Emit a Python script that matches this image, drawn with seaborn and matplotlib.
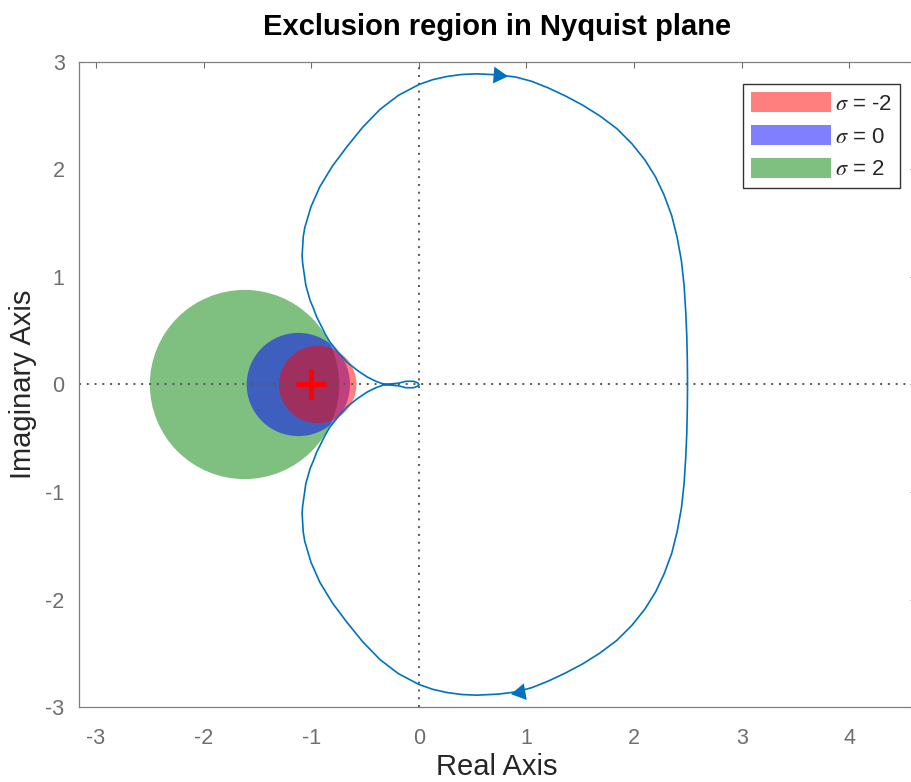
import numpy as np
import pandas as pd
import matplotlib
matplotlib.use('Agg')
import matplotlib.pyplot as plt
from matplotlib.patches import Circle, Patch
import seaborn as sns

# точки кривой Найквиста (верхняя половина, от начала координат до оси)
upper_re = [0.00, -0.01, -0.05, -0.12, -0.19, -0.27, -0.33, -0.40, -0.48, -0.57,
            -0.67, -0.75, -0.83, -0.87, -0.91, -0.95, -0.98, -1.01, -1.03, -1.05,
            -1.06, -1.07, -1.08, -1.085, -1.08, -1.075, -1.06, -1.002, -0.92, -0.804,
            -0.67, -0.523, -0.36, -0.19, 0.00, 0.13, 0.265, 0.40, 0.54, 0.74,
            0.90, 1.05, 1.20, 1.36, 1.52, 1.68, 1.84, 1.98, 2.10, 2.20,
            2.28, 2.35, 2.40, 2.44, 2.465, 2.48, 2.49, 2.495, 2.497]
upper_im = [0.00, 0.015, 0.03, 0.03, 0.012, 0.005, 0.005, 0.03, 0.07, 0.13,
            0.21, 0.30, 0.40, 0.47, 0.55, 0.63, 0.71, 0.78, 0.85, 0.92,
            0.99, 1.06, 1.13, 1.20, 1.28, 1.37, 1.46, 1.655, 1.84, 2.031,
            2.21, 2.392, 2.56, 2.69, 2.79, 2.836, 2.866, 2.884, 2.89, 2.88,
            2.86, 2.82, 2.76, 2.685, 2.60, 2.50, 2.38, 2.24, 2.09, 1.93,
            1.76, 1.57, 1.37, 1.15, 0.92, 0.68, 0.45, 0.22, 0.00]

# стрелки направления
arrow_re = [0.74, 0.94]
arrow_im = [2.88, -2.86]
arrow_angle = [-95, 100]

# круги исключения
sigma_labels = ['-2', '0', '2']
circle_center = [-0.94, -1.12, -1.62]
circle_radius = [0.36, 0.48, 0.88]
circle_colors = ['red', 'blue', (0, 0.5, 0)]

x_ticks = [-3, -2, -1, 0, 1, 2, 3, 4]
y_ticks = [-3, -2, -1, 0, 1, 2, 3]

sns.set_theme(style='white')
plt.rcParams['font.family'] = ['Liberation Sans', 'DejaVu Sans']
plt.rcParams['mathtext.fontset'] = 'stix'
plt.rcParams['axes.unicode_minus'] = False

fig = plt.figure(figsize=(9.12, 7.82), dpi=100)
ax = fig.add_axes([78.5 / 912, 75 / 782, (916 - 78.5) / 912, 645 / 782])

# круги: зелёный снизу, красный сверху
for i in [2, 1, 0]:
    ax.add_patch(Circle((circle_center[i], 0), circle_radius[i],
                        facecolor=circle_colors[i], alpha=0.5, edgecolor='none', zorder=1))

ax.axhline(0, color='#555555', lw=1.4, ls=(0, (1, 3)), zorder=2)
ax.axvline(0, color='#555555', lw=1.4, ls=(0, (1, 3)), zorder=2)

# полная кривая (нижняя половина — сопряжённая)
curve = pd.DataFrame({
    're': upper_re + upper_re[::-1],
    'im': upper_im + [-v for v in upper_im[::-1]],
})
sns.lineplot(data=curve, x='re', y='im', sort=False, estimator=None,
             color='#0072BD', lw=1.2, ax=ax, zorder=3)

for xr, yi, ang in zip(arrow_re, arrow_im, arrow_angle):
    ax.plot(xr, yi, marker=(3, 0, ang), markersize=14, color='#0072BD',
            markeredgewidth=0, zorder=4)

ax.plot(-1, 0, marker='+', color='red', markersize=22, markeredgewidth=3.6, zorder=5)

ax.set_xlim(-3.163, 4.62)
ax.set_ylim(-3, 3)
ax.set_xticks(x_ticks)
ax.set_yticks(y_ticks)
ax.tick_params(direction='in', top=True, right=True, length=4, width=0.8,
               colors='#6e6e6e', labelsize=15.5)
ax.tick_params(axis='x', pad=15)
ax.tick_params(axis='y', pad=10)
for s in ax.spines.values():
    s.set_color('#7f7f7f')
    s.set_linewidth(0.9)

ax.set_xlabel('Real Axis', fontsize=21, color='#262626')
ax.set_ylabel('Imaginary Axis', fontsize=21, color='#262626')
ax.xaxis.set_label_coords(0.5, -0.072)
ax.yaxis.set_label_coords(-0.05, 0.5)
ax.set_title('Exclusion region in Nyquist plane', fontsize=21, fontweight='bold',
             color='black', pad=19.5)

handles = [Patch(facecolor=c, alpha=0.5, edgecolor='none') for c in circle_colors]
labels = [r'$\sigma$ = ' + s for s in sigma_labels]
leg = ax.legend(handles, labels, loc='upper right', bbox_to_anchor=(900 / 912, 1 - 84 / 782),
                bbox_transform=fig.transFigure, borderaxespad=0, fontsize=16,
                handlelength=3.6, handleheight=1.05, handletextpad=0.2,
                labelspacing=0.45, borderpad=0.35, fancybox=False, framealpha=1)
leg.get_frame().set_edgecolor('#333333')
leg.get_frame().set_linewidth(1.0)
for t in leg.get_texts():
    t.set_color('#262626')

fig.savefig('out.png', dpi=100)
